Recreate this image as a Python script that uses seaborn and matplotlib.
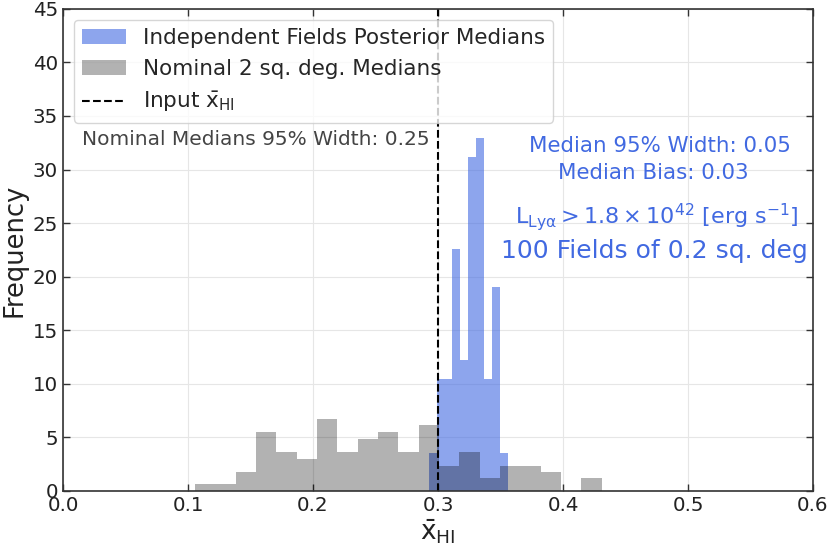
import numpy as np
import pandas as pd
import seaborn as sns
import matplotlib.pyplot as plt

# bin ranges and bar heights
nominal_range = (0.1055, 0.431)
nominal_heights = [0.61, 0.61, 1.81, 5.47, 3.6, 2.97, 6.72, 3.6, 4.84, 5.47,
                   3.6, 6.16, 2.34, 3.6, 1.19, 2.34, 2.34, 1.81, 0.0, 1.19]

indep_range = (0.2924, 0.3563)
indep_heights = [3.52, 10.43, 10.43, 22.6, 12.2, 31.2, 32.9, 10.43, 19.05, 3.52]

input_xhi = 0.3


def centres(rng, n):
    e = np.linspace(rng[0], rng[1], n + 1)
    return (e[:-1] + e[1:]) / 2


df_ind = pd.DataFrame({'x': centres(indep_range, len(indep_heights)),
                       'h': indep_heights})
df_nom = pd.DataFrame({'x': centres(nominal_range, len(nominal_heights)),
                       'h': nominal_heights})

sns.set_style("whitegrid")
plt.rcParams['font.family'] = ['DejaVu Sans']
plt.rcParams['mathtext.default'] = 'regular'

fig, ax = plt.subplots(figsize=(8.3, 5.51), dpi=100)
fig.subplots_adjust(left=0.076, right=0.9795, bottom=0.109, top=0.984)

sns.histplot(data=df_ind, x='x', weights='h', bins=len(indep_heights),
             binrange=indep_range, color='royalblue', alpha=0.6, linewidth=0,
             label='Independent Fields Posterior Medians', ax=ax)
sns.histplot(data=df_nom, x='x', weights='h', bins=len(nominal_heights),
             binrange=nominal_range, color='k', alpha=0.3, linewidth=0,
             label='Nominal 2 sq. deg. Medians', ax=ax)
ax.axvline(input_xhi, color='k', ls='--', lw=1.5, label=r'Input $\bar{x}_{HI}$')

ax.set_xlim(0, 0.6)
ax.set_ylim(0, 45)
ax.set_xlabel(r'$\bar{x}_{HI}$', fontsize=19, color='#222222', labelpad=2)
ax.set_ylabel('Frequency', fontsize=18.5, color='#222222', labelpad=4)
ax.tick_params(direction='in', bottom=True, left=True, top=True, right=True,
               labelsize=14.3, length=5, width=1, colors='#333333',
               labelcolor='#222222')
for s in ax.spines.values():
    s.set_color('#333333')
    s.set_linewidth(1.2)
ax.grid(color='#e6e6e6', lw=0.8)

handles, labels = ax.get_legend_handles_labels()
order = [1, 2, 0]
ax.legend([handles[i] for i in order], [labels[i] for i in order],
          loc='upper left', fontsize=15.5, framealpha=0.8)

ax.text(0.0152, 32.8, 'Nominal Medians 95% Width: 0.25', fontsize=14.5,
        color='#444444', ha='left', va='center')
ax.text(0.4776, 32.2, 'Median 95% Width: 0.05', fontsize=15.4,
        color='royalblue', ha='center', va='center')
ax.text(0.472, 29.7, 'Median Bias: 0.03', fontsize=15.4,
        color='royalblue', ha='center', va='center')
ax.text(0.4748, 25.6, r'$L_{Ly\alpha} > 1.8 \times 10^{42}$ [erg s$^{-1}$]',
        fontsize=16, color='royalblue', ha='center', va='center')
ax.text(0.4728, 22.4, '100 Fields of 0.2 sq. deg', fontsize=18,
        color='royalblue', ha='center', va='center')

fig.savefig('out.png', dpi=100)
